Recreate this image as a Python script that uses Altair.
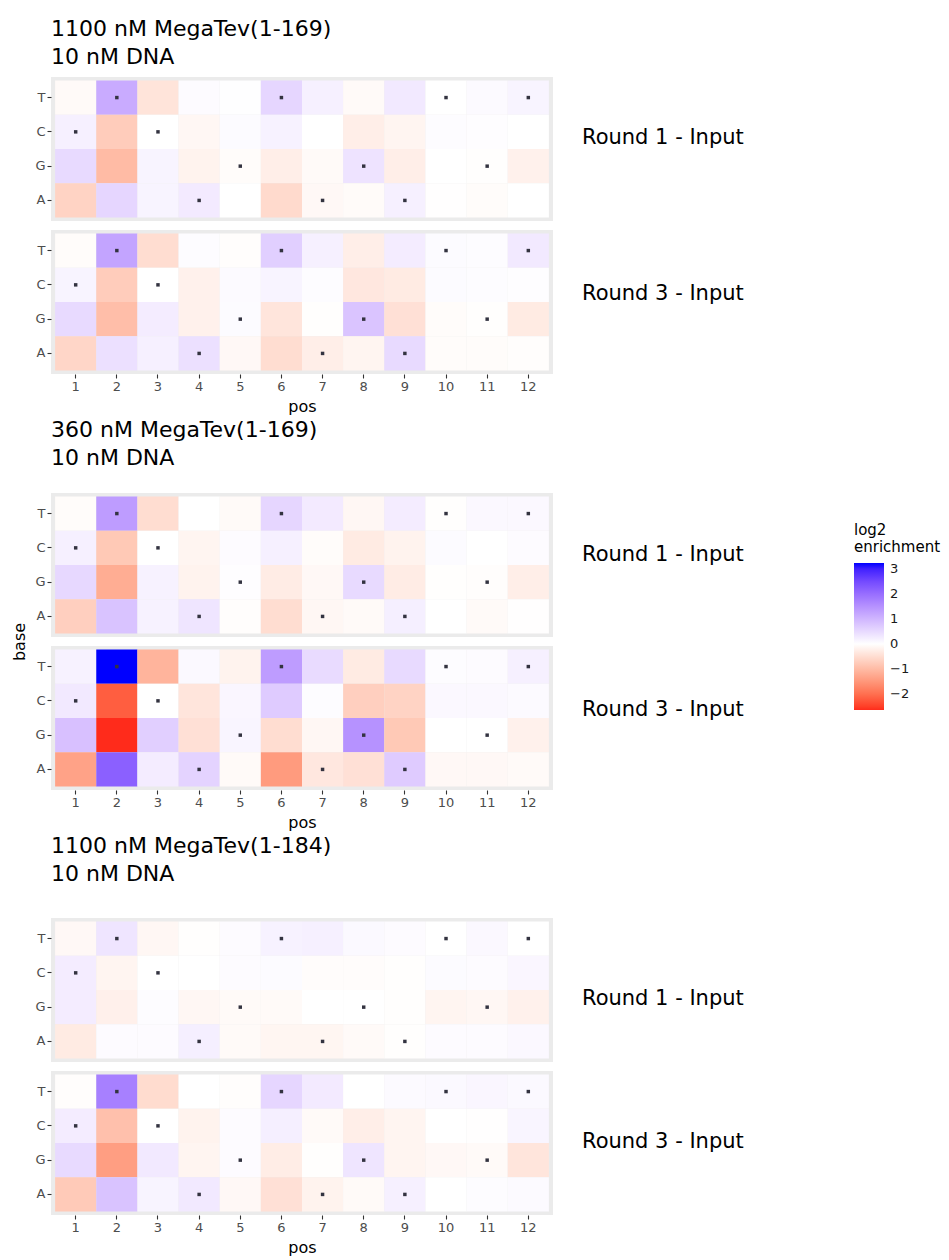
import altair as alt
import pandas as pd

# ---------------- data ----------------
positions = list(range(1, 13))
bases = ["T", "C", "G", "A"]
wild_type = ["C", "T", "C", "A", "G", "T", "A", "G", "A", "T", "G", "T"]
conditions = ["1100 nM MegaTev(1-169)", "360 nM MegaTev(1-169)", "1100 nM MegaTev(1-184)"]
dna_label = "10 nM DNA"
rounds = ["Round 1 - Input", "Round 3 - Input"]

# log2 enrichment, rows T, C, G, A ; positions 1..12
c1_round1 = {
    "T": [-0.08, 1.15, -0.40, 0.05, 0.02, 0.55, 0.20, -0.08, 0.30, 0.00, 0.07, 0.15],
    "C": [0.20, -0.75, 0.00, -0.12, 0.06, 0.18, 0.00, -0.25, -0.15, 0.04, 0.03, 0.00],
    "G": [0.50, -1.00, 0.15, -0.18, -0.05, -0.25, -0.08, 0.38, -0.25, 0.00, -0.02, -0.20],
    "A": [-0.65, 0.55, 0.15, 0.28, 0.00, -0.55, -0.10, -0.06, 0.20, -0.01, -0.05, 0.00],
}
c1_round3 = {
    "T": [-0.05, 1.25, -0.50, 0.04, -0.03, 0.65, 0.20, -0.25, 0.25, 0.06, 0.04, 0.30],
    "C": [0.15, -0.75, 0.00, -0.20, 0.07, 0.15, 0.04, -0.35, -0.30, 0.06, 0.04, 0.03],
    "G": [0.50, -0.95, 0.25, -0.20, 0.06, -0.38, -0.02, 0.80, -0.45, -0.05, -0.02, -0.30],
    "A": [-0.60, 0.42, 0.20, 0.42, -0.10, -0.50, -0.25, -0.15, 0.50, -0.05, -0.05, -0.03],
}
c2_round1 = {
    "T": [-0.05, 1.35, -0.50, 0.00, -0.08, 0.55, 0.28, -0.12, 0.25, -0.02, 0.10, 0.09],
    "C": [0.20, -0.80, 0.00, -0.15, 0.05, 0.20, -0.05, -0.30, -0.18, 0.06, 0.00, 0.05],
    "G": [0.52, -1.20, 0.17, -0.18, 0.03, -0.28, -0.10, 0.50, -0.28, -0.02, -0.03, -0.25],
    "A": [-0.70, 0.82, 0.18, 0.35, -0.03, -0.50, -0.12, -0.08, 0.22, 0.00, -0.08, -0.01],
}
c2_round3 = {
    "T": [0.17, 3.24, -1.10, 0.08, -0.18, 1.35, 0.48, -0.30, 0.50, 0.04, 0.05, 0.20],
    "C": [0.30, -2.20, 0.00, -0.38, 0.12, 0.70, 0.04, -0.70, -0.65, 0.10, 0.10, 0.07],
    "G": [0.85, -2.64, 0.65, -0.45, 0.13, -0.50, -0.12, 1.50, -0.80, 0.00, 0.00, -0.20],
    "A": [-1.35, 2.20, 0.25, 0.60, -0.08, -1.45, -0.35, -0.45, 0.70, -0.10, -0.10, -0.07],
}
c3_round1 = {
    "T": [-0.10, 0.35, -0.12, -0.02, 0.05, 0.17, 0.20, 0.08, 0.05, 0.00, 0.10, 0.00],
    "C": [0.25, -0.15, 0.00, 0.00, 0.05, 0.06, -0.04, -0.04, -0.02, 0.06, 0.05, 0.12],
    "G": [0.25, -0.22, 0.04, -0.12, -0.07, -0.08, 0.00, 0.00, -0.02, -0.15, -0.12, -0.20],
    "A": [-0.30, 0.05, 0.05, 0.22, -0.07, -0.14, -0.14, -0.08, -0.02, 0.05, 0.05, 0.10],
}
c3_round3 = {
    "T": [-0.03, 1.75, -0.52, 0.00, -0.03, 0.55, 0.28, 0.00, 0.07, 0.08, 0.12, 0.08],
    "C": [0.25, -0.92, 0.00, -0.18, 0.05, 0.22, -0.08, -0.25, -0.15, 0.00, -0.01, 0.13],
    "G": [0.50, -1.40, 0.30, -0.15, 0.05, -0.27, -0.02, 0.35, -0.15, -0.10, -0.08, -0.38],
    "A": [-0.78, 0.82, 0.15, 0.30, -0.10, -0.45, -0.18, -0.08, 0.20, 0.00, 0.04, 0.07],
}

panels = [
    (conditions[0], rounds[0], c1_round1),
    (conditions[0], rounds[1], c1_round3),
    (conditions[1], rounds[0], c2_round1),
    (conditions[1], rounds[1], c2_round3),
    (conditions[2], rounds[0], c3_round1),
    (conditions[2], rounds[1], c3_round3),
]

records = []
for cond, rnd, grid in panels:
    for b in bases:
        for p, v in zip(positions, grid[b]):
            records.append({"condition": cond, "round": rnd, "base": b, "pos": p,
                            "value": v, "wt": wild_type[p - 1] == b})
df = pd.DataFrame(records)

# ---------------- styling ----------------
FONT = "DejaVu Sans"
color_scale = alt.Scale(domain=[-2.64, 0, 3.24],
                        range=["#ff2b1b", "#ffffff", "#0000ff"],
                        interpolate="lab")
legend = alt.Legend(orient="none", legendX=803, legendY=446, direction="vertical",
                    title=["log2", "enrichment"], values=[-2, -1, 0, 1, 2, 3],
                    gradientLength=147, gradientThickness=30, gradientStrokeWidth=0,
                    titleFont=FONT, titleFontSize=15, titleFontWeight="normal",
                    titleLineHeight=17, titleColor="#000000", titlePadding=8,
                    labelFont=FONT, labelFontSize=13, labelColor="#1a1a1a", labelOffset=6)


def panel(ci, ri, label_dy, show_x, show_base):
    sub = df[(df["condition"] == conditions[ci]) & (df["round"] == rounds[ri])]
    if show_x:
        x_enc = alt.X("pos:O", scale=alt.Scale(paddingInner=0, paddingOuter=0.1),
                      axis=alt.Axis(title="pos", labelAngle=0, titlePadding=5))
    else:
        x_enc = alt.X("pos:O", scale=alt.Scale(paddingInner=0, paddingOuter=0.1),
                      axis=None)
    y_enc = alt.Y("base:N", sort=bases, scale=alt.Scale(paddingInner=0, paddingOuter=0.1),
                  axis=alt.Axis(title="base", titleOpacity=1 if show_base else 0,
                                titleY=-4.5 if show_base else 72, titlePadding=7))
    tiles = alt.Chart().mark_rect().encode(
        x=x_enc, y=y_enc,
        color=alt.Color("value:Q", scale=color_scale, legend=legend))
    dots = alt.Chart().transform_filter("datum.wt").mark_square(
        size=12, color="#333340", opacity=1).encode(x=x_enc, y=y_enc)
    return alt.layer(tiles, dots, data=sub).properties(
        width=502, height=144,
        title=alt.Title(rounds[ri], orient="right", angle=0, align="right",
                        baseline="middle", anchor="middle", offset=29, dy=label_dy,
                        font=FONT, fontSize=21, fontWeight="normal", color="#000000"))


def group(ci, dys, title_offset):
    return alt.vconcat(
        panel(ci, 0, dys[0], False, False),
        panel(ci, 1, dys[1], True, ci == 1),
        spacing=9,
        bounds="flush",
        title=alt.Title([conditions[ci], dna_label], anchor="start", frame="group",
                        offset=title_offset, font=FONT, fontSize=22,
                        fontWeight="normal", lineHeight=28, color="#000000"),
    )


chart = alt.vconcat(
    group(0, (-11, -8), 8),
    group(1, (-10, -8), 23),
    group(2, (9, -1), 32),
    spacing=5,
).configure_view(
    fill="#EBEBEB", stroke=None
).configure_axis(
    domain=False, grid=False,
    tickColor="#333333", tickSize=4, tickWidth=1.1,
    labelFont=FONT, labelFontSize=13, labelColor="#4D4D4D", labelPadding=2,
    titleFont=FONT, titleFontSize=16, titleFontWeight="normal", titleColor="#000000",
).properties(
    padding={"left": 3, "top": 10, "right": 0, "bottom": 5}
)

chart.save("out.html", embed_options={"renderer": "svg", "actions": False})
